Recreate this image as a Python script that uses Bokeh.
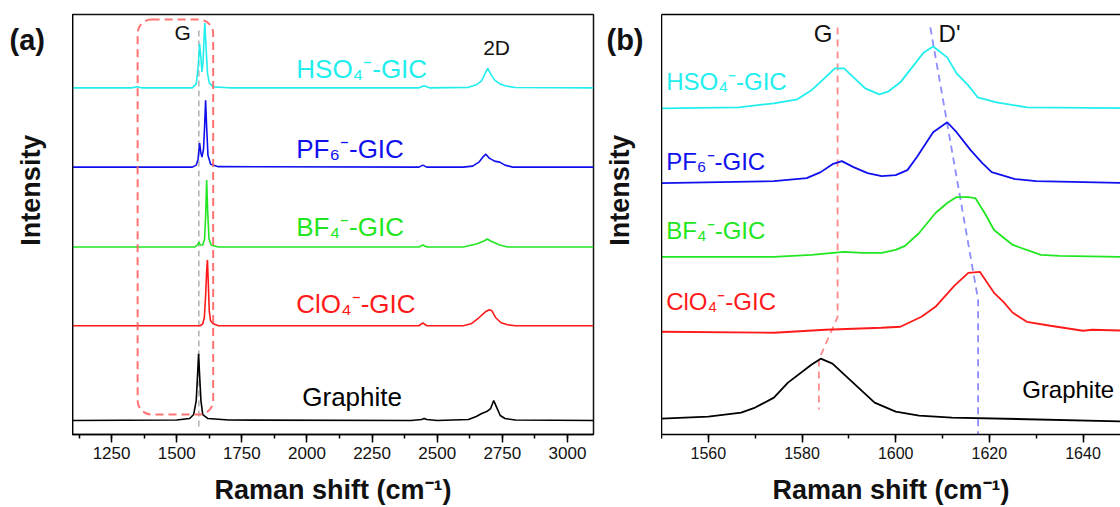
from math import pi
from bokeh.plotting import figure
from bokeh.layouts import row
from bokeh.models import (Range1d, SingleIntervalTicker, FixedTicker, LinearAxis,
                          Label, BoxAnnotation)
from bokeh.core.properties import value
from bokeh.embed import file_html
from bokeh.resources import INLINE

FONT = "Liberation Sans"

# ---------------- data ----------------
names = ["Graphite", "ClO₄⁻-GIC", "BF₄⁻-GIC", "PF₆⁻-GIC", "HSO₄⁻-GIC"]
colors = ["#000000", "#FF1A1A", "#22E622", "#1010EE", "#22EEEE"]

# panel (a): full spectra, intensity above each trace's baseline
a_offset = [14, 109, 188, 268, 347.5]
a_x_graphite = [1100, 1500, 1550, 1565, 1575, 1580, 1584, 1588, 1593, 1600, 1620, 1700, 2400, 2440, 2450,
                2460, 2500, 2620, 2650, 2671, 2690, 2705, 2717, 2727, 2742, 2760, 2800, 3100]
a_i_graphite = [0, 0.5, 2, 6, 20, 45, 67, 45, 20, 6, 2, 0.5, 0, 1, 2,
                1, 0, 1, 4, 7, 9, 12, 20, 14, 5, 2, 0.5, 0]
a_x_clo4 = [1100, 1450, 1590, 1600, 1606, 1611, 1615, 1618, 1621, 1625, 1630, 1640, 1660, 2430, 2445,
            2460, 2600, 2630, 2660, 2685, 2700, 2710, 2725, 2745, 2770, 2800, 3100]
a_i_clo4 = [0, 0, 0, 2, 8, 30, 55, 66, 45, 15, 5, 2, 0, 0, 3,
            0, 0, 2, 8, 14, 16, 15, 8, 3, 1, 0, 0]
a_x_bf4 = [1100, 1570, 1580, 1585, 1590, 1600, 1607, 1611, 1615, 1619, 1624, 1632, 1660, 2430, 2445,
           2460, 2600, 2650, 2680, 2692, 2705, 2740, 2770, 3100]
a_i_bf4 = [0, 0, 2, 5, 2, 2, 8, 30, 67, 35, 8, 2, 0, 0, 2,
           0, 0, 3, 6, 8, 6, 2, 0, 0]
a_x_pf6 = [1100, 1560, 1575, 1582, 1588, 1593, 1597, 1603, 1607, 1611, 1615, 1620, 1630, 1660, 2430,
           2445, 2460, 2600, 2636, 2660, 2675, 2687, 2700, 2720, 2740, 2760, 2790, 3100]
a_i_pf6 = [0, 0, 2, 8, 24, 14, 10, 18, 40, 67, 40, 12, 3, 0.5, 0,
           2, 0, 0, 1, 5, 10, 13, 9, 6, 5, 2, 0, 0]
a_x_hso4 = [1100, 1330, 1347, 1365, 1560, 1575, 1582, 1588, 1593, 1597, 1601, 1605, 1608, 1612, 1618,
            1625, 1640, 1700, 2430, 2450, 2470, 2620, 2650, 2670, 2685, 2694, 2705, 2720, 2740, 2760,
            2800, 3100]
a_i_hso4 = [0, 0, 1, 0, 0, 4, 20, 44, 30, 16, 25, 50, 65, 45, 15,
            5, 1, 0, 0, 2, 0, 0.5, 3, 7, 15, 19.5, 14, 8, 4, 2,
            0.3, 0]
a_label_x = [1982, 1959, 1959, 1959, 1959]
a_label_y = [38, 131, 208, 286, 366]
a_ticks_interval = 250

# panel (b): zoom on G / D' region (stacked intensities)
b_x_graphite = [1550, 1560, 1567, 1570, 1574, 1577, 1582, 1584, 1586.5, 1589.5, 1595.5, 1600, 1605, 1612, 1650]
b_y_graphite = [16, 18, 22, 27, 37, 52, 70, 76, 71, 58, 32, 23, 19, 17, 13]
b_x_clo4 = [1550, 1574, 1585, 1597, 1601, 1605.5, 1608.5, 1612.5, 1615.5, 1618, 1621, 1623, 1625, 1628,
            1633, 1640, 1642, 1650]
b_y_clo4 = [103, 102, 105, 107, 108, 118, 128, 149, 162, 163, 142, 133, 122, 113, 109, 104, 105, 104]
b_x_bf4 = [1550, 1574, 1582, 1589, 1593, 1597, 1600, 1602, 1605, 1608.5, 1611, 1613, 1615.5, 1617, 1619,
           1621, 1625, 1631, 1635, 1650]
b_y_bf4 = [178, 178, 180, 183, 182, 182, 185, 189, 202, 222, 232, 238, 238, 237, 222, 205, 190, 180, 179, 178]
b_x_pf6 = [1550, 1574, 1581, 1584, 1586.5, 1588.5, 1591, 1594, 1597, 1600, 1602.5, 1604.5, 1608, 1611, 1613,
           1616, 1618.5, 1620.5, 1625.5, 1630, 1650]
b_y_pf6 = [252, 254, 257, 263, 271, 274, 268, 262, 259, 260, 265, 278, 303, 313, 303, 285, 272, 263, 256,
           254, 252]
b_x_hso4 = [1550, 1566.5, 1574, 1579, 1582, 1585, 1587, 1589, 1591, 1593.5, 1596.5, 1598.5, 1601, 1603.5,
            1606, 1608, 1611, 1613, 1615.5, 1617.5, 1621.5, 1628, 1650]
b_y_hso4 = [327, 328, 332, 336, 345, 358, 367, 367, 358, 347, 341, 344, 353, 368, 383, 389, 378, 362, 350,
            338, 333, 328, 327]
b_label_x = [1627, 1551, 1551, 1551, 1551]
b_label_y = [45, 133, 204, 274, 354]
b_ticks_interval = 20

# guide lines
a_g_line_x = [1585, 1585]
a_g_line_y = [405, 5]
a_box = dict(left=1350, right=1640, top=416, bottom=20)
b_g_line_x = [1587.6, 1587.6, 1583.6, 1583.6]
b_g_line_y = [408, 118, 75, 25]
b_d_line_x = [1607.4, 1617.6, 1617.6]
b_d_line_y = [408, 135, 0]

a_series = [(a_x_graphite, a_i_graphite), (a_x_clo4, a_i_clo4), (a_x_bf4, a_i_bf4),
            (a_x_pf6, a_i_pf6), (a_x_hso4, a_i_hso4)]
b_series = [(b_x_graphite, b_y_graphite), (b_x_clo4, b_y_clo4), (b_x_bf4, b_y_bf4),
            (b_x_pf6, b_y_pf6), (b_x_hso4, b_y_hso4)]

H = 507


def style_axes(p, interval, tick_size):
    p.xgrid.visible = False
    p.ygrid.visible = False
    p.background_fill_color = "white"
    p.border_fill_color = "white"
    xa = p.xaxis[0]
    xa.ticker = SingleIntervalTicker(interval=interval, num_minor_ticks=2)
    xa.major_tick_out = 8
    xa.major_tick_in = 0
    xa.minor_tick_out = 4
    xa.minor_tick_in = 0
    xa.major_tick_line_width = 1.5
    xa.minor_tick_line_width = 1.5
    xa.axis_line_width = 1.5
    xa.major_label_text_font = FONT
    xa.major_label_text_font_size = tick_size
    xa.major_label_text_color = "#111111"
    xa.major_label_standoff = 4
    xa.axis_label = "Raman shift (cm⁻¹)"
    xa.axis_label_text_font = FONT
    xa.axis_label_text_font_style = "bold"
    xa.axis_label_text_font_size = "27px"
    xa.axis_label_text_color = "#111111"
    xa.axis_label_standoff = 13
    ya = p.yaxis[0]
    ya.ticker = FixedTicker(ticks=[])
    ya.major_tick_out = 0
    ya.minor_tick_out = 0
    ya.major_tick_in = 0
    ya.minor_tick_in = 0
    ya.axis_line_width = 1.5
    ya.major_label_text_font_size = "0px"
    ya.major_label_standoff = 0
    ya.axis_label_standoff = 0


def add_text(p, x, y, text, color="#111111", size="24px", align="left", bold=False):
    p.add_layout(Label(x=x, y=y, text=text, text_color=color, text_font=FONT,
                       text_font_size=size, text_align=align, text_baseline="middle",
                       text_font_style="bold" if bold else "normal"))


def side_strip(width, tag, tag_x, intensity_x):
    s = figure(width=width, height=H, x_range=Range1d(0, width), y_range=Range1d(0, H),
               output_backend="svg", toolbar_location=None, x_axis_location=None,
               y_axis_location=None, min_border=0)
    s.grid.visible = False
    s.outline_line_color = None
    s.text(x=[tag_x], y=[H - 31], text=[tag], text_font=value(FONT), text_font_size="29px",
           text_font_style="bold", text_align="left", text_baseline="middle", text_color="#111111")
    s.text(x=[intensity_x], y=[H - 212], text=["Intensity"], angle=pi / 2, text_font=value(FONT),
           text_font_size="27px", text_font_style="bold", text_align="center",
           text_baseline="middle", text_color="#111111")
    return s


# ---------------- panel (a) ----------------
sa = side_strip(72, "(a)", 9, 30)

p1 = figure(width=528, height=H, x_range=Range1d(1100, 3100), y_range=Range1d(0, 421),
            output_backend="svg", toolbar_location=None,
            min_border_left=0, min_border_right=7, min_border_top=14, min_border_bottom=72)
style_axes(p1, a_ticks_interval, "17px")
p1.outline_line_color = "#111111"
p1.outline_line_width = 1.5

p1.add_layout(BoxAnnotation(**a_box, fill_alpha=0, line_color="#FF6464", line_alpha=0.9,
                            line_width=2, line_dash="8 5", border_radius=14))
p1.line(a_g_line_x, a_g_line_y, line_color="#B0B0B0", line_width=1.5, line_dash="6 4")

for (xs, ii), off, c in zip(a_series, a_offset, colors):
    p1.line(xs, [v + off for v in ii], line_color=c, line_width=1.6)

for name, c, lx, ly in zip(names, colors, a_label_x, a_label_y):
    add_text(p1, lx, ly, name, color=c, size="26px")

add_text(p1, 1523, 403, "G", size="21px", align="center")
add_text(p1, 2728, 388, "2D", size="21px", align="center")

# ---------------- panel (b) ----------------
sb = side_strip(61, "(b)", 6, 19)

p2 = figure(width=459, height=H, x_range=Range1d(1550, 1648), y_range=Range1d(0, 421),
            output_backend="svg", toolbar_location=None,
            min_border_left=0, min_border_right=0, min_border_top=14, min_border_bottom=72)
style_axes(p2, b_ticks_interval, "16px")
p2.outline_line_color = None
top_axis = LinearAxis(ticker=FixedTicker(ticks=[]), major_tick_out=0, minor_tick_out=0,
                      major_tick_in=0, minor_tick_in=0, major_label_text_font_size="0px",
                      major_label_standoff=0, axis_label_standoff=0, axis_line_width=1.5)
p2.add_layout(top_axis, "above")

p2.line(b_g_line_x, b_g_line_y, line_color="#FF8A8A", line_width=1.8, line_dash="7 5")
p2.line(b_d_line_x, b_d_line_y, line_color="#8C8CFF", line_width=1.8, line_dash="7 5")

for (xs, ys), c in zip(b_series, colors):
    p2.line(xs, ys, line_color=c, line_width=1.8)

for name, c, lx, ly in zip(names, colors, b_label_x, b_label_y):
    add_text(p2, lx, ly, name, color=c, size="24px")

add_text(p2, 1584.5, 402, "G", size="24px", align="center")
add_text(p2, 1611.5, 402, "D'", size="24px", align="center")

layout = row(sa, p1, sb, p2)
open("out.html", "w").write(file_html(layout, INLINE))
